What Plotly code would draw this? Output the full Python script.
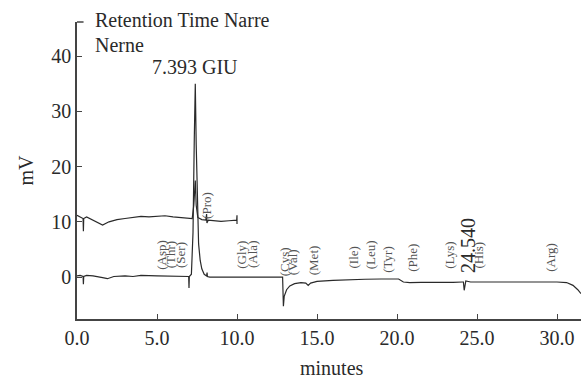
import plotly.graph_objects as go

# ---- data ----
lower_t = [0.0, 0.2, 0.38, 0.4, 0.42, 0.6, 1.0, 1.6, 1.9, 2.3, 3.0, 3.5, 4.0, 5.0, 6.0, 6.8,
           6.98, 7.0, 7.02, 7.15, 7.25, 7.33, 7.393, 7.45, 7.52, 7.6, 7.7, 7.8, 7.95, 8.1, 8.13,
           8.15, 8.3, 9.0, 10.0, 11.0, 12.0, 12.85, 12.9, 12.95, 13.1, 13.3, 13.6, 14.0, 14.3,
           14.45, 14.6, 15.0, 16.0, 17.0, 18.0, 19.0, 19.7, 20.1, 20.4, 20.8, 21.5, 22.5, 23.5,
           24.1, 24.15, 24.2, 24.25, 24.3, 24.6, 25.0, 26.0, 27.0, 28.0, 29.0, 30.0, 30.6, 31.0,
           31.3, 31.5]
lower_mv = [0.2, 0.3, 0.1, -1.3, 0.1, 0.3, 0.2, -0.1, -0.3, 0.1, 0.2, 0.1, 0.3, 0.2, 0.2, 0.1,
            0.1, -2.0, 0.1, 0.5, 8.0, 25.0, 35.0, 24.0, 12.0, 6.0, 3.0, 1.5, 0.5, 0.2, 0.8,
            0.1, 0.0, 0.0, 0.0, 0.0, 0.0, 0.0, -5.3, -3.5, -2.3, -1.6, -1.2, -1.0, -1.1,
            -1.5, -1.1, -0.8, -0.6, -0.45, -0.4, -0.35, -0.3, -0.35, -0.9, -1.0, -0.95, -1.0, -0.95,
            -0.9, -0.9, -2.4, -0.9, -0.7, -0.9, -0.9, -0.85, -0.9, -0.9, -0.85, -0.9, -1.0, -1.5,
            -2.3, -3.0]

upper_t = [0.0, 0.2, 0.38, 0.4, 0.42, 0.6, 1.0, 1.6, 2.0, 2.5, 3.0, 3.5, 4.0, 4.5, 5.0, 5.5,
           6.0, 6.5, 7.0, 7.2, 7.3, 7.393, 7.45, 7.55, 7.8, 8.05, 8.1, 8.12, 8.2, 8.6, 9.0, 9.5,
           9.98, 10.0, 10.0]
upper_mv = [11.2, 10.8, 10.6, 8.3, 10.6, 10.9, 10.3, 9.4, 10.0, 10.4, 10.6, 10.8, 11.0, 10.9,
            11.0, 11.1, 10.9, 10.8, 10.6, 10.6, 13.0, 17.5, 13.0, 10.8, 10.4, 10.3, 11.4, 9.8,
            10.3, 10.2, 10.1, 10.2, 10.3, 11.2, 9.6]

aa_names = ["(Asp)", "(Thr)", "(Ser)", "(Pro)", "(Gly)", "(Ala)", "(Cys)", "(Val)", "(Met)",
            "(Ile)", "(Leu)", "(Tyr)", "(Phe)", "(Lys)", "(His)", "(Arg)"]
aa_time = [5.3, 5.9, 6.5, 8.1, 10.3, 11.0, 12.95, 13.45, 14.8, 17.3, 18.4, 19.4, 21.0, 23.3, 25.1, 29.6]
aa_mv = [4.0, 4.0, 4.0, 13.0, 4.0, 4.0, 2.7, 2.7, 3.0, 3.5, 4.0, 3.2, 3.5, 4.0, 4.0, 3.6]

peak_labels = ["7.393 GIU", "24.540"]
peak_time = [7.4, 24.4]
peak_mv = [38.0, 5.7]

x_ticks = [0, 5, 10, 15, 20, 25, 30]
x_ticktext = ["0.0", "5.0", "10.0", "15.0", "20.0", "25.0", "30.0"]
y_ticks = [0, 10, 20, 30, 40]

FONT = "Liberation Serif, Times New Roman, serif"
INK = "#2a2a2a"

fig = go.Figure()
fig.add_trace(go.Scatter(x=lower_t, y=lower_mv, mode="lines",
                         line=dict(color=INK, width=1.2), showlegend=False))
fig.add_trace(go.Scatter(x=upper_t, y=upper_mv, mode="lines",
                         line=dict(color=INK, width=1.2), showlegend=False))

ann = []
for name, t, v in zip(aa_names, aa_time, aa_mv):
    ann.append(dict(x=t, y=v, xref="x", yref="y", text=name, showarrow=False, textangle=-90,
                    font=dict(family=FONT, size=13, color="#555555")))
ann.append(dict(x=peak_time[0], y=peak_mv[0], xref="x", yref="y", text=peak_labels[0],
                showarrow=False, font=dict(family=FONT, size=20, color=INK)))
ann.append(dict(x=peak_time[1], y=peak_mv[1], xref="x", yref="y", text=peak_labels[1],
                showarrow=False, textangle=-90, font=dict(family=FONT, size=20, color=INK)))
ann.append(dict(x=0.032, y=1.007, xref="paper", yref="paper", text="Retention Time Narre",
                xanchor="left", yanchor="middle",
                showarrow=False, font=dict(family=FONT, size=20, color=INK)))
ann.append(dict(x=0.032, y=0.923, xref="paper", yref="paper", text="Nerne",
                xanchor="left", yanchor="middle",
                showarrow=False, font=dict(family=FONT, size=20, color=INK)))
ann.append(dict(x=-0.103, y=0.5, xref="paper", yref="paper", text="mV", textangle=-90,
                xanchor="center", yanchor="middle",
                showarrow=False, font=dict(family=FONT, size=20, color=INK)))
ann.append(dict(x=0.506, y=-0.166, xref="paper", yref="paper", text="minutes",
                xanchor="center", yanchor="middle",
                showarrow=False, font=dict(family=FONT, size=20, color=INK)))

fig.update_layout(
    width=581, height=379,
    margin=dict(l=77, r=0, t=22, b=60),
    paper_bgcolor="white", plot_bgcolor="white",
    font=dict(family=FONT, size=20, color=INK),
    annotations=ann,
    shapes=[dict(type="line", xref="paper", yref="paper", x0=0, x1=0.013, y0=1, y1=1,
                 line=dict(color="#444", width=1.5))],
    xaxis=dict(range=[0, 31.5], tickvals=x_ticks, ticktext=x_ticktext, showgrid=False,
               zeroline=False, showline=True, linecolor="#444", linewidth=1.5,
               ticks="inside", ticklen=5, tickcolor="#444", tickwidth=1.2,
               tickfont=dict(family=FONT, size=20, color=INK)),
    yaxis=dict(range=[-7.6, 46.2], tickvals=y_ticks, showgrid=False,
               zeroline=False, showline=True, linecolor="#444", linewidth=1.5,
               ticks="inside", ticklen=5, tickcolor="#444", tickwidth=1.2,
               tickfont=dict(family=FONT, size=20, color=INK)),
)

fig.write_html("out.html")
